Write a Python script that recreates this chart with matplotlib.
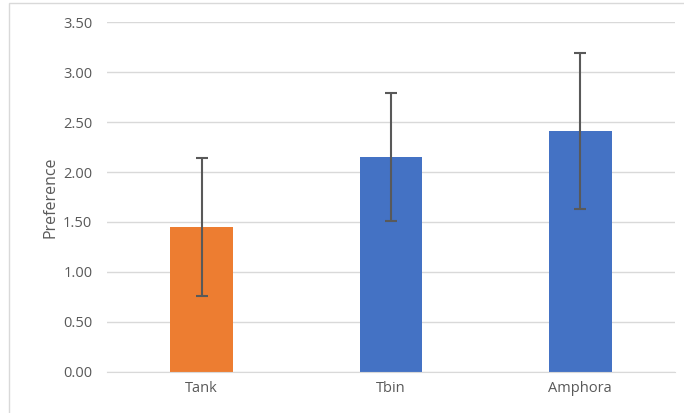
import matplotlib.pyplot as plt
from matplotlib.patches import Rectangle

# Data
categories = ['Tank', 'Tbin', 'Amphora']
preference = [1.45, 2.15, 2.41]
errors = [0.69, 0.64, 0.78]
bar_colors = ['#ED7D31', '#4472C4', '#4472C4']

plt.rcParams['font.family'] = ['Open Sans', 'DejaVu Sans']

fig = plt.figure(figsize=(6.84, 4.13), dpi=100)
ax = fig.add_axes([107 / 684, 1 - 371.7 / 413, (675 - 107) / 684, (371.7 - 22.3) / 413])

x = range(len(categories))
ax.bar(x, preference, width=0.33, color=bar_colors, zorder=2)
ax.errorbar(x, preference, yerr=errors, fmt='none', ecolor='#595959',
            elinewidth=1.5, capsize=4, capthick=1.5, zorder=3)

ax.set_xlim(-0.5, 2.5)
ax.set_ylim(0, 3.5)
ax.set_yticks([0, 0.5, 1, 1.5, 2, 2.5, 3, 3.5])
ax.set_yticklabels(['%.2f' % v for v in ax.get_yticks()])
ax.set_xticks(list(x))
ax.set_xticklabels(categories)

ax.grid(axis='y', color='#D9D9D9', linewidth=1, zorder=0)
for s in ['top', 'right', 'left']:
    ax.spines[s].set_visible(False)
ax.spines['bottom'].set_color('#D9D9D9')
ax.tick_params(length=0, colors='#595959', labelsize=10.5)
ax.tick_params(axis='x', pad=7)
ax.tick_params(axis='y', pad=10.5)
ax.set_ylabel('Preference', color='#595959', fontsize=11.5, labelpad=3)

# outer chart border
fig.patches.append(Rectangle((9 / 684, -0.1), 1, 1 - 3 / 413 + 0.1,
                             transform=fig.transFigure, fill=False,
                             edgecolor='#D9D9D9', linewidth=1))

fig.savefig('out.png', dpi=100)
